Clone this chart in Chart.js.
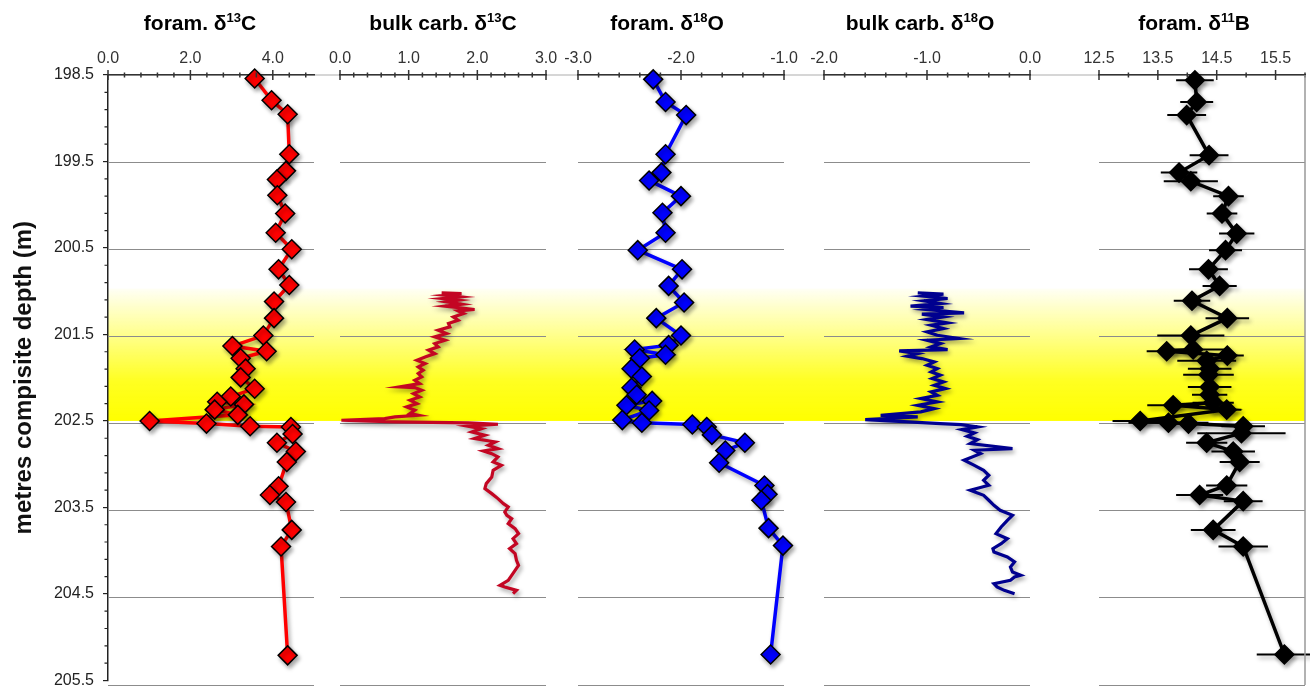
<!DOCTYPE html>
<html>
<head>
<meta charset="utf-8">
<title>Isotopes - metres composite depth</title>
<script src="https://cdn.jsdelivr.net/npm/chart.js@4.4.0/dist/chart.umd.min.js"></script>
<style>
    body { margin: 0; background: #fff; }
    #wrap { position: relative; width: 1310px; height: 699px; overflow: hidden; }
    #wrap canvas { position: absolute; top: 0; }
</style>
</head>
<body>
<div id="wrap">
    <canvas id="fond" width="1310" height="699" style="left:0"></canvas>
    <canvas id="chart1" width="256" height="699" style="left:83px"></canvas>
    <canvas id="chart2" width="256" height="699" style="left:315px"></canvas>
    <canvas id="chart3" width="256" height="699" style="left:553px"></canvas>
    <canvas id="chart4" width="256" height="699" style="left:799px"></canvas>
    <canvas id="chart5" width="256" height="699" style="left:1074px"></canvas>
</div>
<script>
// Profondeur (axe commun)
let depthTicks = [198.5, 199.5, 200.5, 201.5, 202.5, 203.5, 204.5, 205.5];
let gridDepths = [199.5, 200.5, 201.5, 202.5, 203.5, 204.5, 205.5];
let bandTop = 200.97;
let bandBottom = 202.5;

// Graduations du haut
let foramCTicks = [0, 2, 4];
let bulkCTicks = [0, 1, 2, 3];
let foramOTicks = [-3, -2, -1];
let bulkOTicks = [-2, -1, 0];
let boronTicks = [12.5, 13.5, 14.5, 15.5];

// foram. d13C
let foramCDepth = [198.54, 198.79, 198.95, 199.41, 199.60, 199.70, 199.88, 200.09, 200.31, 200.50,
    200.73, 200.91, 201.10, 201.29, 201.49, 201.61, 201.67, 201.75, 201.87, 201.97,
    202.10, 202.19, 202.25, 202.28, 202.34, 202.40, 202.47, 202.50, 202.53, 202.54,
    202.62, 202.72, 202.82, 202.94, 203.22, 203.32, 203.40, 203.72, 203.91, 205.16];
let foramCValues = [3.56, 3.97, 4.36, 4.40, 4.32, 4.10, 4.11, 4.30, 4.07, 4.46,
    4.14, 4.40, 4.03, 4.03, 3.77, 3.02, 3.85, 3.22, 3.34, 3.22,
    3.56, 2.98, 2.65, 3.30, 2.59, 3.15, 1.01, 2.39, 3.45, 4.44,
    4.48, 4.10, 4.56, 4.34, 4.14, 3.93, 4.32, 4.46, 4.20, 4.36];

// bulk carb. d13C
let bulkCDepth = [201.000, 201.008, 201.027, 201.046, 201.065, 201.084, 201.103, 201.130, 201.153, 201.191,
    201.207, 201.237, 201.276, 201.314, 201.352, 201.390, 201.429, 201.467, 201.505, 201.543,
    201.582, 201.620, 201.658, 201.697, 201.735, 201.773, 201.811, 201.850, 201.888, 201.926,
    201.964, 202.003, 202.041, 202.079, 202.087, 202.117, 202.156, 202.194, 202.232, 202.271,
    202.309, 202.347, 202.385, 202.405, 202.424, 202.443, 202.462, 202.481, 202.493, 202.508,
    202.531, 202.558, 202.596, 202.634, 202.672, 202.711, 202.749, 202.787, 202.814, 202.845,
    202.883, 202.940, 202.979, 203.036, 203.113, 203.189, 203.246, 203.304, 203.361, 203.419,
    203.457, 203.514, 203.553, 203.591, 203.648, 203.706, 203.763, 203.821, 203.878, 203.935,
    203.993, 204.069, 204.127, 204.184, 204.241, 204.299, 204.356, 204.375, 204.414, 204.452];
let bulkCValues = [1.48, 1.77, 1.53, 1.75, 1.50, 1.72, 1.55, 1.77, 1.53, 1.96,
    1.72, 1.80, 1.65, 1.72, 1.58, 1.60, 1.43, 1.55, 1.38, 1.53,
    1.38, 1.43, 1.29, 1.38, 1.24, 1.12, 1.24, 1.14, 1.21, 1.14,
    1.19, 1.09, 1.16, 0.87, 1.09, 1.19, 1.07, 1.16, 1.02, 1.12,
    0.97, 1.09, 1.02, 1.14, 0.80, 0.65, 0.02, 0.80, 1.87, 2.30,
    1.87, 2.06, 1.92, 2.11, 1.96, 2.26, 2.16, 2.30, 2.09, 2.21,
    2.30, 2.23, 2.35, 2.23, 2.21, 2.13, 2.11, 2.21, 2.30, 2.38,
    2.45, 2.40, 2.43, 2.50, 2.45, 2.55, 2.60, 2.52, 2.57, 2.47,
    2.55, 2.57, 2.60, 2.55, 2.50, 2.45, 2.33, 2.40, 2.57, 2.52];

// foram. d18O
let foramODepth = [198.55, 198.81, 198.96, 199.41, 199.62, 199.71, 199.89, 200.08, 200.31, 200.51,
    200.73, 200.92, 201.11, 201.29, 201.49, 201.60, 201.65, 201.71, 201.75, 201.87,
    201.96, 202.09, 202.17, 202.24, 202.29, 202.35, 202.46, 202.49, 202.51, 202.54,
    202.63, 202.72, 202.81, 202.95, 203.21, 203.31, 203.38, 203.70, 203.90, 205.15];
let foramOValues = [-2.27, -2.15, -1.95, -2.15, -2.19, -2.31, -2.00, -2.18, -2.15, -2.42,
    -1.99, -2.12, -1.97, -2.24, -2.00, -2.12, -2.45, -2.15, -2.40, -2.48,
    -2.38, -2.48, -2.43, -2.28, -2.53, -2.31, -2.57, -2.38, -1.89, -1.75,
    -1.70, -1.38, -1.57, -1.63, -1.19, -1.16, -1.22, -1.15, -1.01, -1.13];

// bulk carb. d18O
let bulkODepth = [201.000, 201.015, 201.038, 201.065, 201.092, 201.122, 201.153, 201.168, 201.191, 201.230,
    201.245, 201.276, 201.306, 201.344, 201.371, 201.409, 201.448, 201.486, 201.524, 201.543,
    201.582, 201.620, 201.651, 201.666, 201.697, 201.727, 201.754, 201.792, 201.830, 201.869,
    201.907, 201.945, 201.984, 202.022, 202.060, 202.098, 202.137, 202.175, 202.213, 202.251,
    202.290, 202.328, 202.366, 202.405, 202.424, 202.454, 202.481, 202.500, 202.512, 202.538,
    202.569, 202.607, 202.646, 202.684, 202.730, 202.787, 202.806, 202.845, 202.921, 202.979,
    203.036, 203.093, 203.151, 203.208, 203.266, 203.323, 203.380, 203.438, 203.495, 203.553,
    203.610, 203.687, 203.763, 203.821, 203.878, 203.935, 203.974, 204.031, 204.088, 204.146,
    204.203, 204.241, 204.261, 204.299, 204.337, 204.375, 204.414, 204.452];
let bulkOValues = [-1.09, -0.84, -1.03, -0.80, -1.03, -0.87, -1.16, -0.84, -1.00, -0.64,
    -1.05, -0.84, -1.00, -0.80, -0.96, -0.84, -1.00, -0.90, -0.69, -1.00,
    -0.87, -0.96, -0.80, -1.27, -1.09, -1.19, -1.05, -0.93, -1.00, -0.90,
    -0.96, -0.87, -0.95, -0.84, -0.93, -0.82, -0.96, -0.90, -1.06, -0.90,
    -1.09, -0.93, -1.06, -1.45, -1.09, -1.60, -1.18, -0.87, -0.67, -0.51,
    -0.66, -0.54, -0.61, -0.51, -0.58, -0.17, -0.54, -0.48, -0.64, -0.54,
    -0.45, -0.40, -0.45, -0.40, -0.58, -0.45, -0.40, -0.35, -0.29, -0.17,
    -0.22, -0.28, -0.33, -0.22, -0.28, -0.36, -0.35, -0.22, -0.15, -0.19,
    -0.17, -0.09, -0.15, -0.19, -0.35, -0.32, -0.25, -0.15];

// foram. d11B (+ erreur)
let boronDepth = [198.56, 198.81, 198.96, 199.42, 199.62, 199.72, 199.89, 200.09, 200.32, 200.51,
    200.73, 200.92, 201.09, 201.29, 201.49, 201.65, 201.67, 201.72, 201.78, 201.87,
    201.94, 202.08, 202.17, 202.26, 202.29, 202.34, 202.47, 202.49, 202.50, 202.53,
    202.61, 202.72, 202.82, 202.94, 203.21, 203.32, 203.39, 203.72, 203.91, 205.15];
let boronValues = [14.13, 14.16, 13.99, 14.37, 13.86, 14.06, 14.70, 14.59, 14.84, 14.65,
    14.36, 14.55, 14.08, 14.68, 14.06, 14.10, 13.65, 14.68, 14.33, 14.38,
    14.36, 14.38, 14.38, 14.44, 13.76, 14.67, 13.20, 13.68, 14.02, 14.95,
    14.92, 14.33, 14.78, 14.89, 14.67, 14.21, 14.95, 14.44, 14.95, 15.65];
let boronErrors = [0.32, 0.28, 0.33, 0.33, 0.31, 0.46, 0.26, 0.26, 0.30, 0.28,
    0.33, 0.29, 0.31, 0.37, 0.57, 0.55, 0.34, 0.28, 0.50, 0.37,
    0.43, 0.37, 0.30, 0.35, 0.44, 0.25, 0.47, 0.68, 0.28, 0.37,
    0.75, 0.35, 0.37, 0.34, 0.35, 0.40, 0.33, 0.38, 0.42, 0.47];

let fontFamily = '"Liberation Sans", Arial, Helvetica, sans-serif';
Chart.defaults.font.family = fontFamily;
Chart.defaults.animation = false;
Chart.defaults.events = [];

function toPoints(depths, values) {
    return depths.map((d, i) => ({x: values[i], y: d}));
}

// Fond : bande jaune + axe des profondeurs
let fondPlugin = {
    id: 'fondPlugin',
    beforeDraw(chart) {
        let ctx = chart.ctx;
        let a = chart.chartArea;
        let y = chart.scales.y;
        let y0 = y.getPixelForValue(bandTop);
        let y1 = y.getPixelForValue(bandBottom);
        let g = ctx.createLinearGradient(0, y0, 0, y1);
        g.addColorStop(0, 'rgba(255,255,0,0.04)');
        g.addColorStop(0.35, 'rgba(255,255,0,0.45)');
        g.addColorStop(0.7, 'rgba(255,255,0,0.87)');
        g.addColorStop(1, 'rgba(255,255,0,1)');
        ctx.save();
        ctx.fillStyle = g;
        ctx.fillRect(a.left, y0, a.right - a.left, y1 - y0);
        // ligne claire qui relie les axes du haut
        ctx.strokeStyle = '#c8c8c8';
        ctx.lineWidth = 1.5;
        ctx.beginPath();
        ctx.moveTo(a.left, a.top);
        ctx.lineTo(a.right, a.top);
        ctx.stroke();
        ctx.restore();
    },
    afterDraw(chart) {
        // petites graduations tous les 0.2 m
        let ctx = chart.ctx;
        let y = chart.scales.y;
        let left = chart.chartArea.left;
        ctx.save();
        ctx.strokeStyle = '#222';
        ctx.lineWidth = 1.2;
        ctx.beginPath();
        for (let k = 0; k <= 35; k++) {
            if (k % 5 === 0) continue;
            let py = y.getPixelForValue(198.5 + k * 0.2);
            ctx.moveTo(left - 3.5, py);
            ctx.lineTo(left, py);
        }
        ctx.stroke();
        ctx.restore();
    }
};

new Chart(document.getElementById('fond'), {
    type: 'scatter',
    data: {datasets: []},
    options: {
        responsive: false,
        devicePixelRatio: 1,
        layout: {padding: {left: 0, top: 75, right: 5, bottom: 14}},
        plugins: {legend: {display: false}, tooltip: {enabled: false}},
        scales: {
            x: {display: false, min: 0, max: 1},
            y: {
                type: 'linear',
                reverse: true,
                min: 198.5,
                max: 205.5,
                afterBuildTicks: (s) => { s.ticks = depthTicks.map(v => ({value: v})); },
                afterFit: (s) => { s.width = 108; },
                ticks: {callback: v => v.toFixed(1), font: {size: 16}, color: '#222', padding: 9},
                grid: {drawOnChartArea: false, drawTicks: true, tickLength: 5, color: '#222', lineWidth: 1.2},
                border: {color: '#222', width: 1.5},
                title: {
                    display: true,
                    text: 'metres compisite depth (m)',
                    font: {size: 24, weight: 'bold'},
                    color: '#111',
                    padding: {top: 10, bottom: 0}
                }
            }
        }
    },
    plugins: [fondPlugin]
});

// titre avec exposant
function drawTitle(ctx, parts, cx, baseline) {
    let big = 'bold 21px ' + fontFamily;
    let small = 'bold 13px ' + fontFamily;
    let w = 0;
    parts.forEach((t, i) => {
        ctx.font = i === 1 ? small : big;
        w += ctx.measureText(t).width;
    });
    let x = cx - w / 2;
    ctx.fillStyle = '#000';
    ctx.textAlign = 'left';
    ctx.textBaseline = 'alphabetic';
    parts.forEach((t, i) => {
        ctx.font = i === 1 ? small : big;
        ctx.fillText(t, x, i === 1 ? baseline - 8 : baseline);
        x += ctx.measureText(t).width;
    });
}

function panelPlugin(p) {
    return {
        id: 'panelPlugin',
        beforeDatasetsDraw(chart) {
            let ctx = chart.ctx;
            ctx.save();
            ctx.shadowColor = 'rgba(0,0,0,0.35)';
            ctx.shadowBlur = 4;
            ctx.shadowOffsetX = 2;
            ctx.shadowOffsetY = 3;
            // barres d'erreur
            if (p.errors) {
                let x = chart.scales.x;
                let y = chart.scales.y;
                ctx.strokeStyle = '#000';
                ctx.lineWidth = 2;
                ctx.beginPath();
                p.depths.forEach((d, i) => {
                    let py = y.getPixelForValue(d);
                    ctx.moveTo(x.getPixelForValue(p.values[i] - p.errors[i]), py);
                    ctx.lineTo(x.getPixelForValue(p.values[i] + p.errors[i]), py);
                });
                ctx.stroke();
            }
        },
        afterDatasetsDraw(chart) {
            chart.ctx.restore();
        },
        afterDraw(chart) {
            let ctx = chart.ctx;
            let x = chart.scales.x;
            let a = chart.chartArea;
            ctx.save();
            ctx.strokeStyle = '#333';
            ctx.lineWidth = 1.5;
            ctx.beginPath();
            let n = Math.round((p.max - p.min) / p.minor);
            for (let k = 0; k <= n; k++) {
                let v = p.min + k * p.minor;
                if (v > p.max + 1e-6) break;
                let px = x.getPixelForValue(v);
                ctx.moveTo(px, a.top - 2.5);
                ctx.lineTo(px, a.top + 2.5);
            }
            p.ticks.forEach(v => {
                let px = x.getPixelForValue(v);
                ctx.moveTo(px, a.top - 5);
                ctx.lineTo(px, a.top + 5);
            });
            ctx.stroke();
            if (p.border) {
                ctx.strokeStyle = '#999';
                ctx.lineWidth = 1.5;
                ctx.beginPath();
                ctx.moveTo(a.right, a.top);
                ctx.lineTo(a.right, a.bottom);
                ctx.stroke();
            }
            drawTitle(ctx, p.title, (a.left + a.right) / 2 + p.shift, 30);
            ctx.restore();
        }
    };
}

function makePanel(p) {
    new Chart(document.getElementById(p.id), {
        type: 'scatter',
        data: {datasets: [p.dataset]},
        options: {
            responsive: false,
            devicePixelRatio: 1,
            layout: {padding: {left: 25, right: 25, top: 40, bottom: 14}},
            plugins: {legend: {display: false}, tooltip: {enabled: false}},
            scales: {
                x: {
                    type: 'linear',
                    position: 'top',
                    min: p.min,
                    max: p.max,
                    afterBuildTicks: (s) => { s.ticks = p.ticks.map(v => ({value: v})); },
                    afterFit: (s) => { s.height = 35; },
                    ticks: {callback: v => v.toFixed(1), font: {size: 16}, color: '#333', padding: 7, maxRotation: 0, autoSkip: false},
                    grid: {drawOnChartArea: false, drawTicks: false},
                    border: {color: '#333', width: 1.5}
                },
                y: {
                    type: 'linear',
                    reverse: true,
                    min: 198.5,
                    max: 205.5,
                    afterBuildTicks: (s) => { s.ticks = gridDepths.map(v => ({value: v})); },
                    afterFit: (s) => { s.width = 0; },
                    ticks: {display: false},
                    grid: {color: '#8c8c8c', lineWidth: 1, drawTicks: false},
                    border: {display: false}
                }
            }
        },
        plugins: [panelPlugin(p)]
    });
}

function diamonds(depths, values, color) {
    return {
        data: toPoints(depths, values),
        showLine: true,
        borderColor: color,
        borderWidth: 3.5,
        pointStyle: 'rectRot',
        pointRadius: 9.5,
        pointBackgroundColor: color,
        pointBorderColor: '#000',
        pointBorderWidth: 1.5,
        clip: false
    };
}

function courbe(depths, values, color) {
    return {
        data: toPoints(depths, values),
        showLine: true,
        borderColor: color,
        borderWidth: 3.2,
        pointRadius: 0,
        clip: false
    };
}

makePanel({id: 'chart1', min: 0, max: 5, ticks: foramCTicks, minor: 0.4, title: ['foram. δ', '13', 'C'], shift: -11,
    dataset: diamonds(foramCDepth, foramCValues, '#ff0000')});
makePanel({id: 'chart2', min: 0, max: 3, ticks: bulkCTicks, minor: 0.2, title: ['bulk carb. δ', '13', 'C'], shift: 0,
    dataset: courbe(bulkCDepth, bulkCValues, '#c30623')});
makePanel({id: 'chart3', min: -3, max: -1, ticks: foramOTicks, minor: 0.2, title: ['foram. δ', '18', 'O'], shift: -14,
    dataset: diamonds(foramODepth, foramOValues, '#0000ff')});
makePanel({id: 'chart4', min: -2, max: 0, ticks: bulkOTicks, minor: 0.2, title: ['bulk carb. δ', '18', 'O'], shift: -7,
    dataset: courbe(bulkODepth, bulkOValues, '#00008f')});
makePanel({id: 'chart5', min: 12.5, max: 16, ticks: boronTicks, minor: 0.5, title: ['foram. δ', '11', 'B'], shift: -8,
    border: true, depths: boronDepth, values: boronValues, errors: boronErrors,
    dataset: diamonds(boronDepth, boronValues, '#000000')});
</script>
</body>
</html>
